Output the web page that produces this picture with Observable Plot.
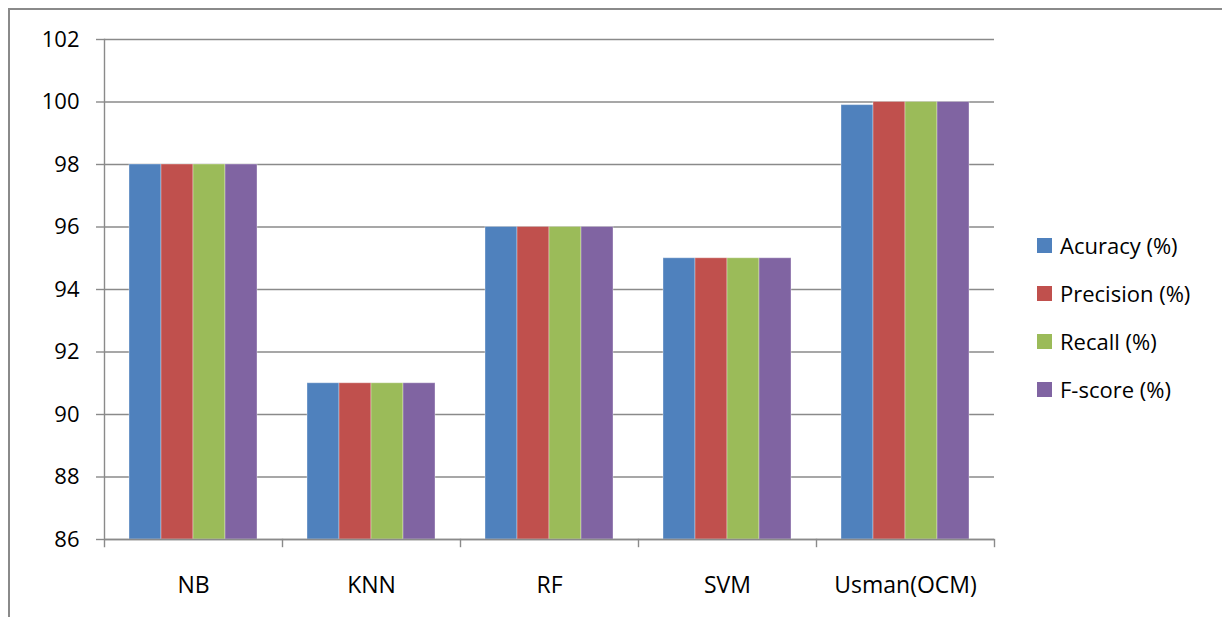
<!DOCTYPE html>
<html>
<head>
<meta charset="utf-8">
<script src="https://cdn.jsdelivr.net/npm/d3@7"></script>
<script src="https://cdn.jsdelivr.net/npm/@observablehq/plot@0.6"></script>
<style>
  html, body { margin: 0; padding: 0; background: #fff; }
  #wrap { position: relative; width: 1222px; height: 617px; overflow: hidden; font-family: "Open Sans", Lato, sans-serif; }
  #frame { position: absolute; left: 8px; top: 8px; width: 1300px; height: 700px; border-left: 2px solid #8a8a8a; border-top: 2px solid #8a8a8a; }
  #chart { position: absolute; left: 0; top: 0; }
  #legend { position: absolute; left: 1037px; top: 221px; font-size: 22px; color: #000; }
  #legend .item { display: flex; align-items: center; height: 48px; white-space: nowrap; }
  #legend .sw { width: 15px; height: 15px; margin-right: 8px; }
</style>
</head>
<body>
<div id="wrap">
  <div id="frame"></div>
  <div id="chart"></div>
  <div id="legend"></div>
</div>
<script>
const categories = ["NB", "KNN", "RF", "SVM", "Usman(OCM)"];
const series = ["Acuracy (%)", "Precision (%)", "Recall (%)", "F-score (%)"];
const accuracy  = [98, 91, 96, 95, 99.9];
const precision = [98, 91, 96, 95, 100];
const recall    = [98, 91, 96, 95, 100];
const fscore    = [98, 91, 96, 95, 100];
const colors = ["#4F81BD", "#C0504D", "#9BBB59", "#8064A2"];
const yTicks = [86, 88, 90, 92, 94, 96, 98, 100, 102];

const values = [accuracy, precision, recall, fscore];
const yMin = yTicks[0], yMax = yTicks[yTicks.length - 1];
const data = categories.flatMap((c, i) => series.map((s, j) => ({category: c, series: s, value: values[j][i]})));

const axisColor = "#8a8a8a";
const chart = Plot.plot({
  width: 1222,
  height: 617,
  marginLeft: 103,
  marginRight: 227,
  marginTop: 39,
  marginBottom: 78,
  style: {fontFamily: "'Open Sans', Lato, sans-serif", fontSize: "22px", color: "#000", background: "transparent", overflow: "visible"},
  fx: {domain: categories, padding: 0, label: null},
  x: {domain: series, paddingInner: 0, paddingOuter: 0.765, axis: null},
  y: {domain: [yMin, yMax], label: null},
  color: {domain: series, range: colors},
  marks: [
    Plot.gridY(yTicks, {stroke: axisColor, strokeOpacity: 1, strokeWidth: 1.4}),
    Plot.barY(data, {fx: "category", x: "series", y1: yMin, y2: "value", fill: "series", stroke: "#fff", strokeOpacity: 0.35, strokeWidth: 1}),
    Plot.ruleY([yMin], {stroke: axisColor, strokeWidth: 1.4}),
    Plot.frame({anchor: "left", facetAnchor: "left", insetBottom: -7, stroke: axisColor, strokeWidth: 1.4}),
    Plot.frame({anchor: "right", insetTop: 500, insetBottom: -7, stroke: axisColor, strokeWidth: 1.4}),
    Plot.axisY(yTicks, {anchor: "left", tickSize: 8, tickPadding: 17, stroke: axisColor, strokeWidth: 1.4, strokeOpacity: 1, fontSize: 22, fill: "#000", label: null}),
    Plot.axisFx({anchor: "bottom", tickSize: 0, tickPadding: 37, fontSize: 23, fill: "#000", label: null})
  ]
});
document.getElementById("chart").appendChild(chart);

const legend = document.getElementById("legend");
series.forEach((s, j) => {
  const item = document.createElement("div");
  item.className = "item";
  const sw = document.createElement("span");
  sw.className = "sw";
  sw.style.background = colors[j];
  const t = document.createElement("span");
  t.textContent = s;
  item.appendChild(sw);
  item.appendChild(t);
  legend.appendChild(item);
});
</script>
</body>
</html>
